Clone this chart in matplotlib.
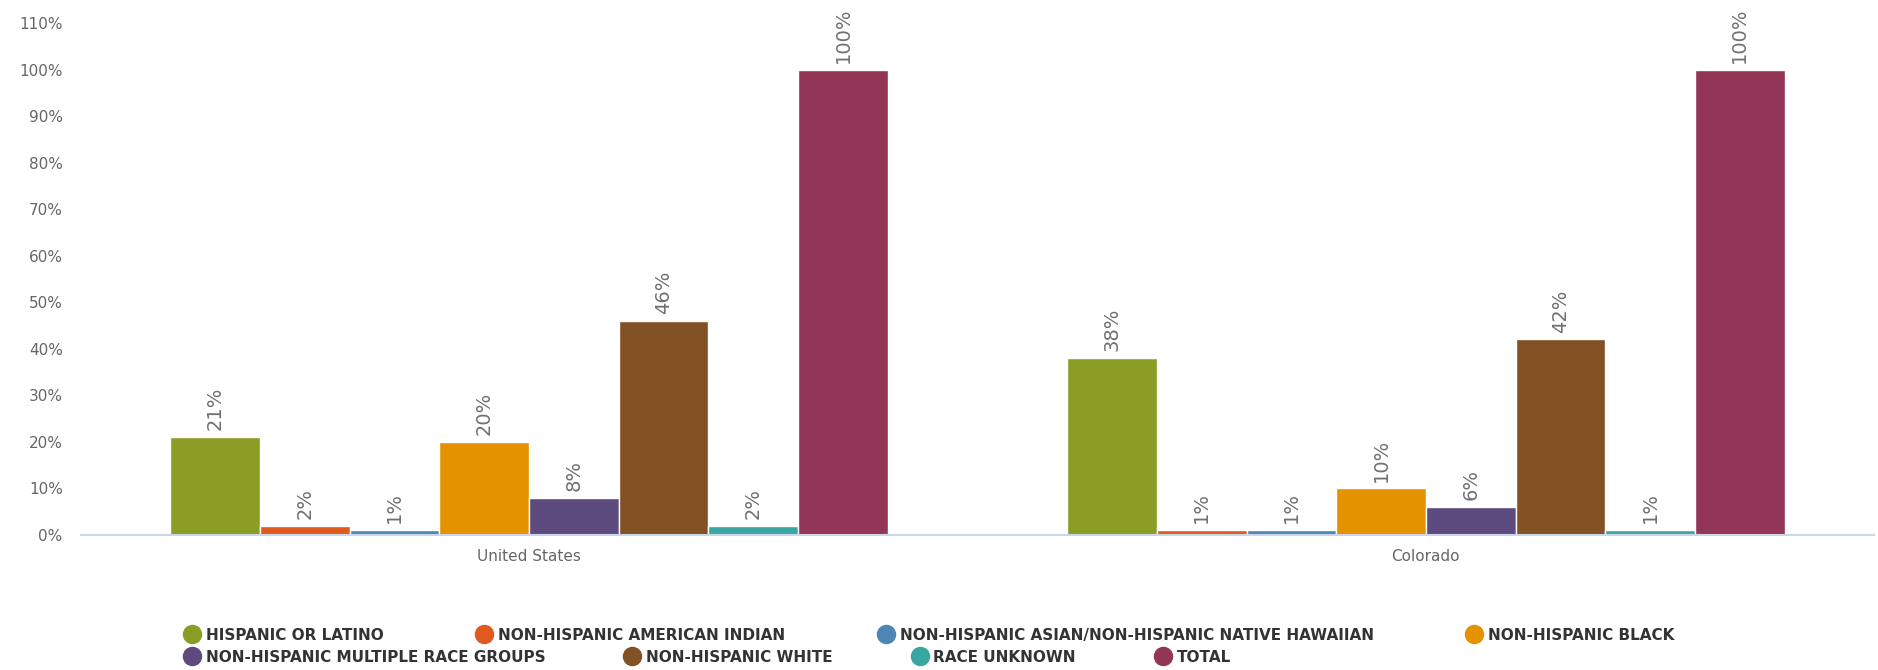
import numpy as np
import matplotlib.pyplot as plt
from matplotlib.lines import Line2D

# Data
regions = ["United States", "Colorado"]
series_names = [
    "HISPANIC OR LATINO",
    "NON-HISPANIC AMERICAN INDIAN",
    "NON-HISPANIC ASIAN/NON-HISPANIC NATIVE HAWAIIAN",
    "NON-HISPANIC BLACK",
    "NON-HISPANIC MULTIPLE RACE GROUPS",
    "NON-HISPANIC WHITE",
    "RACE UNKNOWN",
    "TOTAL",
]
hispanic = [21, 38]
american_indian = [2, 1]
asian_hawaiian = [1, 1]
black = [20, 10]
multiple = [8, 6]
white = [46, 42]
unknown = [2, 1]
total = [100, 100]
values = [hispanic, american_indian, asian_hawaiian, black, multiple, white, unknown, total]

colors = ["#8c9d26", "#e05a20", "#4c86b7", "#e59200", "#5d4a7e", "#825124", "#3aa6a2", "#933557"]

fig = plt.figure(figsize=(18.78, 6.70), dpi=100)
ax = fig.add_axes([0.043, 0.2015, 0.955, 0.7642])

x = np.arange(len(regions))
width = 0.1
for i, (name, vals) in enumerate(zip(series_names, values)):
    pos = x + (i - 3.5) * width
    bars = ax.bar(pos, vals, width, color=colors[i], edgecolor="white", linewidth=1, label=name)
    for b, v in zip(bars, vals):
        ax.annotate(f"{v}%", (b.get_x() + b.get_width() / 2, b.get_height()),
                    xytext=(0, 5), textcoords="offset points", rotation=90,
                    ha="center", va="bottom", fontsize=14, color="#707070")

ax.set_xlim(-0.5, 1.5)
ax.set_ylim(0, 110)
ax.set_yticks(np.arange(0, 111, 10))
ax.set_yticklabels([f"{t}%" for t in range(0, 111, 10)], fontsize=11, color="#666666")
ax.set_xticks(x)
ax.set_xticklabels(regions, fontsize=11, color="#666666")
ax.tick_params(axis="both", length=0)
ax.tick_params(axis="x", pad=10)
ax.tick_params(axis="y", pad=13)
for s in ["top", "right", "left"]:
    ax.spines[s].set_visible(False)
ax.spines["bottom"].set_color("#ccd6eb")
ax.spines["bottom"].set_linewidth(1.5)

# Legend in two flowing rows
handles = [Line2D([], [], marker="o", linestyle="", markersize=13, color=c) for c in colors]
for row, y, spacing in [(0, 0.052, 6.1), (1, 0.019, 5.2)]:
    idx = range(row * 4, row * 4 + 4)
    leg = fig.legend([handles[i] for i in idx], [series_names[i] for i in idx],
                     loc="center left", bbox_to_anchor=(0.094, y), ncol=4, frameon=False,
                     handletextpad=0.4, columnspacing=spacing, handlelength=1.0, borderpad=0,
                     prop={"weight": "bold", "size": 11})
    for t in leg.get_texts():
        t.set_color("#333333")

fig.savefig("out.png", dpi=100)
